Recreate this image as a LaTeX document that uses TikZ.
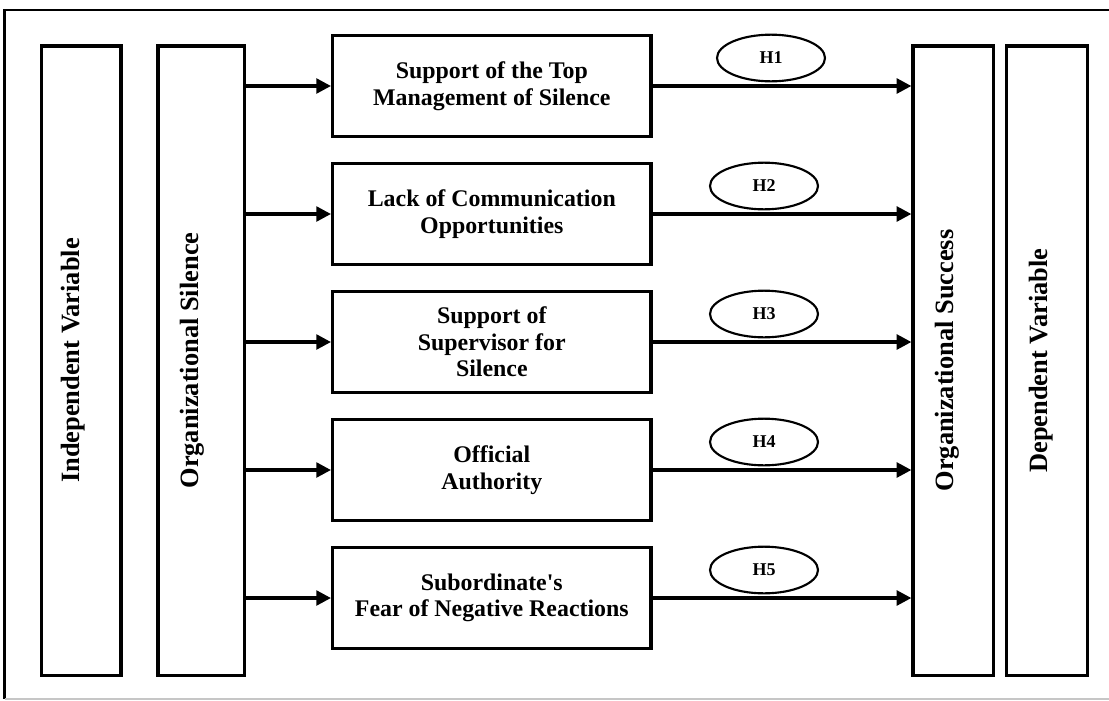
\documentclass[tikz,border=0pt]{standalone}
\usepackage{fontspec}
\newfontfamily\figfont{Liberation Serif}
\usetikzlibrary{arrows.meta,shapes.geometric}

\begin{document}
\begin{tikzpicture}[x=0.75pt,y=-0.75pt,
  tallbox/.style={draw,line width=2.5pt,minimum height=472pt},
  varlabel/.style={rotate=90,inner sep=0pt,font=\figfont\bfseries\fontsize{19.8}{24}\selectfont},
  dimbox/.style={draw,line width=2.5pt,minimum width=238.7pt,minimum height=75.5pt,align=center,
    font=\figfont\bfseries\fontsize{17.9}{20}\selectfont},
  hyp/.style={ellipse,draw,line width=1.6pt,inner sep=0pt,minimum width=81pt,minimum height=35pt,
    font=\figfont\bfseries\fontsize{13.5}{16}\selectfont},
  link/.style={line width=2.5pt,-{Triangle[length=11pt,width=11pt]}}]

\useasboundingbox (0,0) rectangle (1109,700);

% Outer frame (right side cut off)
\draw[line width=2.2pt] (1109,10) -- (4.5,10) -- (4.5,699);
\draw[gray!45,line width=0.9pt] (4.5,699) -- (1109,699);

% Side columns
\node[tallbox,minimum width=59.5pt] (indep) at (81.3,360.5) {};
\node[tallbox,minimum width=64.7pt] (silence) at (201.2,360.5) {};
\node[tallbox,minimum width=60.2pt] (success) at (953.2,360.5) {};
\node[tallbox,minimum width=60.75pt] (dep) at (1047.2,360.5) {};

\node[varlabel] (indeptxt) at ([xshift=-6pt]indep.center) {Independent Variable};
\node[varlabel] (silencetxt) at ([xshift=-6.5pt]silence.center) {Organizational Silence};
\node[varlabel] (successtxt) at ([xshift=-4.5pt]success.center) {Organizational Success};
\node[varlabel] (deptxt) at ([xshift=-4.5pt]dep.center) {Dependent Variable};

% Dimensions of silence, hypotheses and paths
\foreach \txt/\hx [count=\i] in {{Support of the Top\\Management of Silence}/771,
    {Lack of Communication\\Opportunities}/764,
    {Support of\\Supervisor for\\Silence}/764,
    {Official\\Authority}/764,
    {Subordinate's\\Fear of Negative Reactions}/764} {
  \node[dimbox] (dim\i) at (491.8,{86+128*(\i-1)}) {\txt};
  \node[hyp] (h\i) at (\hx,{58+128*(\i-1)}) {H\i};
  \draw[link] (silence.east |- dim\i.west) -- (dim\i.west);
  \draw[link] (dim\i.east) -- (success.west |- dim\i.east);
}

\end{tikzpicture}
\end{document}
